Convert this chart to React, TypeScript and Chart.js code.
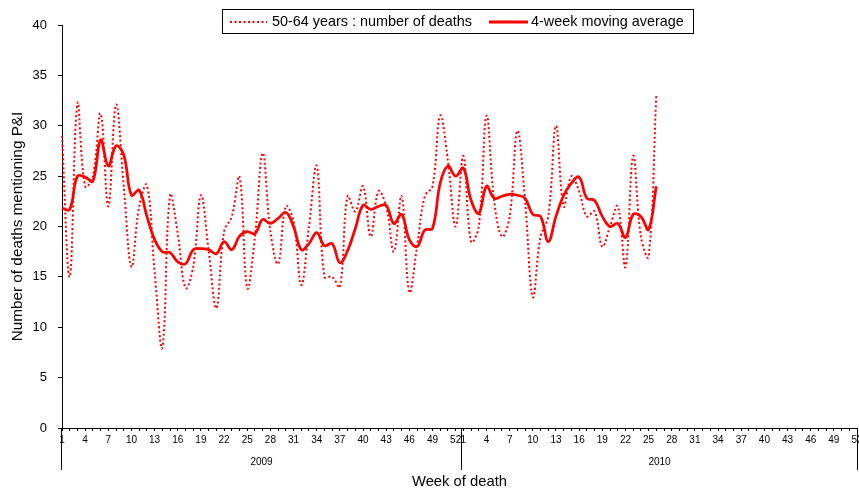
import React, { useEffect, useRef } from 'react';
import { Chart, registerables } from 'chart.js';

Chart.register(...registerables);

// ---- data ----
const years = ['2009', '2010'];
const weeksPerYear = 52;
const labelEvery = 3;

const deaths2009 = [
  29, 15, 32.2, 24, 25, 31.2, 22, 32.1, 24, 16,
  22, 24.1, 15.5, 8, 23.1, 19.3, 13.9, 16, 23.1, 17.6,
  11.9, 19.5, 21, 24.9, 13.9, 19, 27.3, 19.5, 16.3, 22,
  20.5, 14.2, 20, 26, 15, 15, 14, 23, 21.5, 24,
  19, 23.5, 22, 17.5, 23, 13.5, 18, 23, 24, 31,
  26.5, 20,
];
const deaths2010 = [
  27, 18.5, 20, 31, 22.5, 19, 21, 29.5, 22.5, 13,
  19, 21, 30, 22, 25, 23.5, 21, 21.5, 18, 20,
  22, 16, 27, 19, 17, 33,
];
const movingAvg2009 = [
  21.8, 21.7, 25.0, 24.9, 24.5, 28.6, 26.0, 28.0, 27.1, 23.1,
  23.6, 21.0, 18.7, 17.5, 17.4, 16.5, 16.3, 17.7, 17.8, 17.7,
  17.3, 18.5, 17.7, 19.05, 19.5, 19.3, 20.7, 20.3, 20.8, 21.4,
  20.0, 17.7, 18.3, 19.4, 18.1, 18.3, 16.4, 17.6, 19.8, 22.1,
  21.7, 22.0, 22.1, 20.3, 21.2, 18.7, 18.0, 19.65, 19.8, 24.3,
  26.0, 25.0,
];
const movingAvg2010 = [
  25.8, 22.6, 21.3, 24.0, 22.8, 23.0, 23.2, 23.1, 22.8, 21.2,
  21.0, 18.5, 21.0, 23.1, 24.3, 24.9, 22.8, 22.6, 21.0, 20.0,
  20.3, 18.9, 21.2, 21.0, 19.7, 24.0,
];
const yMin = 0;
const yMax = 40;
const yStep = 5;

const seriesLabel = '50-64 years : number of deaths';
const avgLabel = '4-week moving average';
const yTitle = 'Number of deaths mentioning P&I';
const xTitle = 'Week of death';

const FONT = '"Liberation Sans", Arial, Helvetica, sans-serif';
const RED = '#ff0000';

export default function App() {
  const canvasRef = useRef<HTMLCanvasElement | null>(null);

  useEffect(() => {
    document.body.style.margin = '0';
    const canvas = canvasRef.current;
    if (!canvas) return;

    const labels: string[] = [];
    years.forEach(() => {
      for (let w = 1; w <= weeksPerYear; w++) labels.push(String(w));
    });

    const deaths = [...deaths2009, ...deaths2010];
    const avg = [...movingAvg2009, ...movingAvg2010];

    const decorPlugin = {
      id: 'decor',
      afterDraw(chart: any) {
        const ctx = chart.ctx as CanvasRenderingContext2D;
        const xs = chart.scales.x;
        const area = chart.chartArea;
        ctx.save();
        // year dividers
        ctx.strokeStyle = '#000';
        ctx.lineWidth = 1;
        const dividers: number[] = [Math.round(area.left) - 0.5];
        for (let y = 1; y < years.length; y++) {
          const a = xs.getPixelForValue(y * weeksPerYear - 1);
          const b = xs.getPixelForValue(y * weeksPerYear);
          dividers.push(Math.round((a + b) / 2) + 1.5);
        }
        dividers.push(Math.round(area.right) + 0.5);
        ctx.beginPath();
        dividers.forEach((x) => {
          ctx.moveTo(x, area.bottom);
          ctx.lineTo(x, area.bottom + 42);
        });
        ctx.stroke();
        // year labels
        ctx.fillStyle = '#000';
        ctx.font = `10px ${FONT}`;
        ctx.textAlign = 'center';
        ctx.textBaseline = 'middle';
        years.forEach((yr, i) => {
          const x = (dividers[i] + dividers[i + 1]) / 2;
          ctx.fillText(yr, x, area.bottom + 34);
        });

        // legend box
        ctx.strokeStyle = '#000';
        ctx.lineWidth = 1;
        ctx.strokeRect(222.5, 9.5, 471, 24);
        ctx.strokeStyle = RED;
        ctx.lineWidth = 2;
        ctx.setLineDash([2, 2.5]);
        ctx.beginPath();
        ctx.moveTo(230, 22);
        ctx.lineTo(267, 22);
        ctx.stroke();
        ctx.setLineDash([]);
        ctx.lineWidth = 3;
        ctx.beginPath();
        ctx.moveTo(489, 22);
        ctx.lineTo(528, 22);
        ctx.stroke();
        ctx.fillStyle = '#000';
        ctx.font = `14.4px ${FONT}`;
        ctx.textAlign = 'left';
        ctx.textBaseline = 'middle';
        ctx.fillText(seriesLabel, 272, 22);
        ctx.fillText(avgLabel, 531, 22);
        ctx.restore();
      },
    };

    const chart = new Chart(canvas, {
      type: 'line',
      data: {
        labels,
        datasets: [
          {
            label: seriesLabel,
            data: deaths,
            borderColor: RED,
            borderWidth: 2,
            borderDash: [2, 2.5],
            pointRadius: 0,
            tension: 0.4,
            fill: false,
            order: 2,
          },
          {
            label: avgLabel,
            data: avg,
            borderColor: RED,
            borderWidth: 2.75,
            pointRadius: 0,
            tension: 0.4,
            fill: false,
            order: 1,
          },
        ],
      },
      options: {
        responsive: false,
        animation: false,
        devicePixelRatio: 1,
        layout: { padding: { top: 25, right: 2, left: 0, bottom: 0 } },
        plugins: {
          legend: { display: false },
          tooltip: { enabled: false },
          title: { display: false },
        },
        scales: {
          x: {
            type: 'category',
            offset: false,
            grid: {
              display: true,
              drawOnChartArea: false,
              drawTicks: true,
              tickLength: 3,
              color: '#000',
              lineWidth: 1,
            },
            border: { display: true, color: '#000', width: 1 },
            ticks: {
              autoSkip: false,
              maxRotation: 0,
              minRotation: 0,
              padding: 3,
              color: '#000',
              font: { size: 10, family: FONT },
              callback: (_v: any, idx: number) =>
                (idx % weeksPerYear) % labelEvery === 0 ? labels[idx] : '',
            },
            title: {
              display: true,
              text: xTitle,
              color: '#000',
              font: { size: 14.8, family: FONT },
              padding: { top: 0, bottom: 2.5 },
            },
            afterFit: (scale: any) => {
              scale.height = 65;
              scale.paddingLeft = 0;
              scale.paddingRight = 0;
            },
          },
          y: {
            min: yMin,
            max: yMax,
            grid: {
              display: true,
              drawOnChartArea: false,
              drawTicks: true,
              tickLength: 4,
              color: '#000',
              lineWidth: 1,
            },
            border: { display: true, color: '#000', width: 1 },
            ticks: {
              stepSize: yStep,
              padding: 11,
              color: '#000',
              font: { size: 13, family: FONT },
            },
            title: {
              display: true,
              text: yTitle,
              color: '#000',
              font: { size: 15.3, family: FONT },
              padding: { top: 8.5, bottom: 0 },
            },
            afterFit: (scale: any) => {
              scale.width = 62;
            },
          },
        },
      },
      plugins: [decorPlugin],
    });

    return () => {
      chart.destroy();
    };
  }, []);

  return (
    <div style={{ position: 'absolute', left: 0, top: 0, width: 859, height: 493, background: '#fff' }}>
      <canvas ref={canvasRef} width={859} height={493} style={{ display: 'block' }} />
    </div>
  );
}
